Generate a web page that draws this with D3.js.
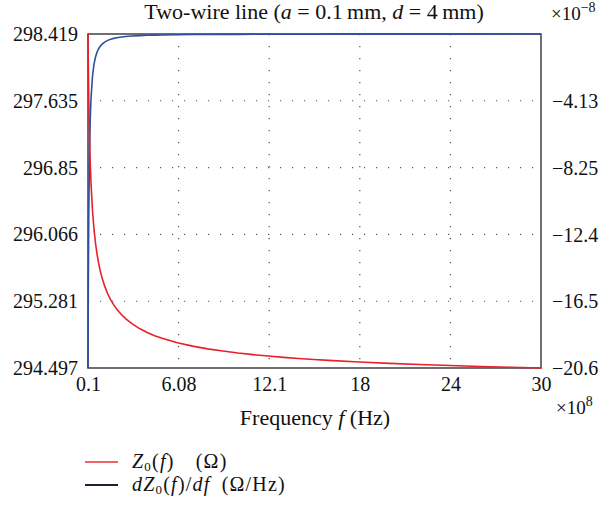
<!DOCTYPE html>
<html><head><meta charset="utf-8">
<script src="https://cdn.jsdelivr.net/npm/d3@7"></script>
<style>body{margin:0;background:#fff}svg{display:block}</style>
</head><body><svg id="c" width="602" height="506" font-family="Liberation Serif"></svg>
<script>
// frequency (x10^8 Hz)
const freq = [0.1,0.12,0.15,0.2,0.25,0.3,0.4,0.5,0.6,0.7,0.8,0.9,1.0,1.2,1.4,1.6,1.8,2.0,2.3,2.6,3.0,3.5,4,4.5,5,6,7,8,9,10,11,12,13,14,15,16,18,20,22,24,26,28,30];
// Z0(f) in ohm
const z0 = [298.419,298.056,297.655,297.200,296.889,296.660,296.338,296.118,295.956,295.830,295.728,295.644,295.573,295.458,295.369,295.297,295.238,295.188,295.125,295.073,295.017,294.960,294.915,294.877,294.846,294.794,294.754,294.722,294.696,294.673,294.654,294.637,294.622,294.609,294.597,294.586,294.567,294.551,294.538,294.526,294.515,294.506,294.497];
// dZ0/df (x10^-8 ohm/Hz)
const dz = [-20.6,-15.67,-11.21,-7.28,-5.21,-3.96,-2.575,-1.842,-1.401,-1.112,-0.910,-0.763,-0.651,-0.496,-0.393,-0.322,-0.270,-0.230,-0.187,-0.155,-0.125,-0.099,-0.081,-0.068,-0.058,-0.044,-0.035,-0.029,-0.024,-0.021,-0.018,-0.016,-0.014,-0.012,-0.011,-0.010,-0.009,-0.007,-0.006,-0.006,-0.005,-0.004,-0.004];
const xTicks = [0.1,6.08,12.06,18.04,24.02,30];
const xTickLabels = ["0.1","6.08","12.1","18","24","30"];
const yLeftTicks = [294.497,295.281,296.066,296.85,297.635,298.419];
const yLeftLabels = ["294.497","295.281","296.066","296.85","297.635","298.419"];
const yRightTicks = [-20.6,-16.5,-12.4,-8.25,-4.13];
const yRightLabels = ["\u221220.6","\u221216.5","\u221212.4","\u22128.25","\u22124.13"];

const FF = "Liberation Serif";
const FS = 20;
const svg = d3.select("#c");
const L=88,R=541,T=34,B=368;
const x = d3.scaleLinear().domain([0.1,30]).range([L,R]);
const yl = d3.scaleLinear().domain([294.497,298.419]).range([B,T]);
const yr = d3.scaleLinear().domain([-20.6,0]).range([B,T]);

// grid
const g = svg.append("g");
g.selectAll("line.vx").data(xTicks.slice(1,-1)).join("line")
 .attr("x1",d=>x(d)).attr("x2",d=>x(d)).attr("y1",T).attr("y2",B)
 .attr("stroke","#555").attr("stroke-width",1.2).attr("stroke-dasharray","1.2,10.8");
g.selectAll("line.hy").data(yLeftTicks.slice(1,-1)).join("line")
 .attr("y1",d=>yl(d)).attr("y2",d=>yl(d)).attr("x1",L).attr("x2",R)
 .attr("stroke","#555").attr("stroke-width",1.2).attr("stroke-dasharray","1.2,10.8");

// frame
svg.append("rect").attr("x",L).attr("y",T).attr("width",R-L).attr("height",B-T)
 .attr("fill","none").attr("stroke","#4a4a52").attr("stroke-width",1.6);

// axes (labels only)
const ax = svg.append("g").attr("transform",`translate(0,${B})`)
 .call(d3.axisBottom(x).tickValues(xTicks).tickFormat((d,i)=>xTickLabels[i]).tickSize(0).tickPadding(9));
const al = svg.append("g").attr("transform",`translate(${L},0)`)
 .call(d3.axisLeft(yl).tickValues(yLeftTicks).tickFormat((d,i)=>yLeftLabels[i]).tickSize(0).tickPadding(10));
const ar = svg.append("g").attr("transform",`translate(${R},0)`)
 .call(d3.axisRight(yr).tickValues(yRightTicks).tickFormat((d,i)=>yRightLabels[i]).tickSize(0).tickPadding(11));
[ax,al,ar].forEach(a=>{a.attr("font-family",FF).attr("font-size",FS);a.select(".domain").remove();a.selectAll("text").attr("font-family",FF).attr("font-size",FS).attr("fill","#111");});

// lines
const lineZ = d3.line().x((d,i)=>x(freq[i])).y(d=>yl(d));
const lineD = d3.line().x((d,i)=>x(freq[i])).y(d=>yr(d));
svg.append("path").datum(dz).attr("d",lineD).attr("fill","none").attr("stroke","#2f4f9e").attr("stroke-width",1.6);
svg.append("path").datum(z0).attr("d",lineZ).attr("fill","none").attr("stroke","#e8202a").attr("stroke-width",1.6);

function txt(xp,yp,size,anchor){return svg.append("text").attr("x",xp).attr("y",yp).attr("text-anchor",anchor||"start").attr("font-family",FF).attr("font-size",size).attr("fill","#111");}

// title
const t = txt(314,19,22,"middle");
t.append("tspan").text("Two-wire line (");
t.append("tspan").attr("font-style","italic").text("a");
t.append("tspan").text(" = 0.1\u2009mm, ");
t.append("tspan").attr("font-style","italic").text("d");
t.append("tspan").text(" = 4\u2009mm)");

// exponents
const e1 = txt(551,20,19);
e1.append("tspan").text("\u00d710");
e1.append("tspan").attr("dy",-8).attr("font-size",14).text("\u22128");
const e2 = txt(556,414,19);
e2.append("tspan").text("\u00d710");
e2.append("tspan").attr("dy",-8).attr("font-size",14).text("8");

// x label
const xl = txt(315,425,22,"middle");
xl.append("tspan").text("Frequency ");
xl.append("tspan").attr("font-style","italic").text("f");
xl.append("tspan").text(" (Hz)");

// legend
const leg = [{c:"#f06468"},{c:"#1c2233"}];
svg.selectAll("line.leg").data(leg).join("line")
 .attr("x1",85).attr("x2",118).attr("y1",(d,i)=>462+i*23).attr("y2",(d,i)=>462+i*23)
 .attr("stroke",d=>d.c).attr("stroke-width",2);
const l1 = txt(132,468,20).attr("letter-spacing",1.2);
l1.append("tspan").attr("font-style","italic").text("Z");
l1.append("tspan").attr("dy",3).attr("font-size",13).text("0");
l1.append("tspan").attr("dy",-3).text("(");
l1.append("tspan").attr("font-style","italic").text("f");
l1.append("tspan").text(")\u2003(\u03a9)");
const l2 = txt(132,491,20).attr("letter-spacing",1.2);
l2.append("tspan").attr("font-style","italic").text("dZ");
l2.append("tspan").attr("dy",3).attr("font-size",13).text("0");
l2.append("tspan").attr("dy",-3).text("(");
l2.append("tspan").attr("font-style","italic").text("f");
l2.append("tspan").text(")/");
l2.append("tspan").attr("font-style","italic").text("df");
l2.append("tspan").text("\u2002(\u03a9/Hz)");
</script></body></html>
